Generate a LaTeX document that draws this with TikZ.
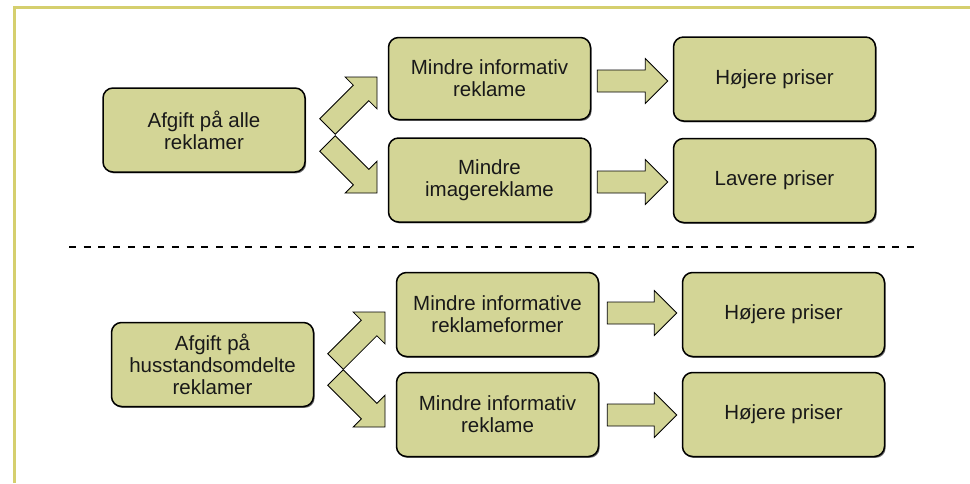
\documentclass[tikz,border=0pt]{standalone}
\usepackage{fontspec}
\setmainfont{Liberation Sans}
\usetikzlibrary{calc,shadows}
\definecolor{boxfill}{RGB}{211,213,150}
\definecolor{framecol}{RGB}{213,207,110}
\tikzset{
  box/.style={draw=black, line width=1.5pt, fill=boxfill, rounded corners=10pt,
    minimum width=202pt, minimum height=84pt, inner sep=0pt, align=center,
    font=\fontsize{20.5}{22}\selectfont, text=black!90,
    drop shadow={shadow xshift=1.2pt, shadow yshift=-1.4pt, opacity=0.7, fill=black!80}},
  barrow/.style={draw=black, line width=0.8pt, fill=boxfill, line join=miter},
  sep/.style={line width=2pt, dash pattern=on 7pt off 7.7pt},
  frame/.style={draw=framecol, line width=3pt}
}
\newcommand\blockarrow[2]{%
  \draw[barrow] ($(#1)!11pt!-90:(#2)$)
    -- ($(#2)!22.5pt!(#1)!11pt!-90:(#2)$)
    -- ($(#2)!22.5pt!(#1)!22.5pt!-90:(#2)$)
    -- (#2)
    -- ($(#2)!22.5pt!(#1)!22.5pt!90:(#2)$)
    -- ($(#2)!22.5pt!(#1)!11pt!90:(#2)$)
    -- ($(#1)!11pt!90:(#2)$) -- cycle;}
\begin{document}
\begin{tikzpicture}[x=1pt,y=-1pt]
\useasboundingbox (0,0) rectangle (970,483);
% frame
\draw[frame] (14,483) -- (14,7) -- (970,7);
% top section
\node[box] (a1) at (204,130) {Afgift på alle\\reklamer};
\node[box, minimum height=82pt] (b1) at (489.5,78.5) {Mindre informativ\\reklame};
\node[box] (b2) at (489.5,180) {Mindre\\imagereklame};
\node[box] (c1) at (774.5,79) {Højere priser};
\node[box] (c2) at (774.5,180.5) {Lavere priser};
% bottom section
\node[box] (a2) at (212.5,364.5) {Afgift på\\husstandsomdelte\\reklamer};
\node[box] (d1) at (497.5,314.5) {Mindre informative\\reklameformer};
\node[box] (d2) at (497.5,414.5) {Mindre informativ\\reklame};
\node[box] (e1) at (783.5,314.5) {Højere priser};
\node[box] (e2) at (783.5,414.5) {Højere priser};
% arrow end points
\coordinate (t1) at (327.5,126.5); \coordinate (p1) at (377,77);
\coordinate (t2) at (327.5,143.5); \coordinate (p2) at (377,193);
\coordinate (t3) at ($(b1.east)+(6,2.5)$); \coordinate (p3) at ($(c1.west)+(-5,2)$);
\coordinate (t4) at ($(b2.east)+(6,2)$); \coordinate (p4) at ($(c2.west)+(-5,1.5)$);
\coordinate (t5) at (335.5,361.5); \coordinate (p5) at (385,312);
\coordinate (t6) at (335.5,377.5); \coordinate (p6) at (385,427);
\coordinate (t7) at ($(d1.east)+(8,-1.5)$); \coordinate (p7) at ($(e1.west)+(-5,-1.5)$);
\coordinate (t8) at ($(d2.east)+(8,0.5)$); \coordinate (p8) at ($(e2.west)+(-5,0.5)$);
\blockarrow{t1}{p1}
\blockarrow{t2}{p2}
\blockarrow{t3}{p3}
\blockarrow{t4}{p4}
\blockarrow{t5}{p5}
\blockarrow{t6}{p6}
\blockarrow{t7}{p7}
\blockarrow{t8}{p8}
% separator
\coordinate (s1) at (69,247); \coordinate (s2) at (916,247);
\draw[sep] (s1) -- (s2);
\end{tikzpicture}
\end{document}
